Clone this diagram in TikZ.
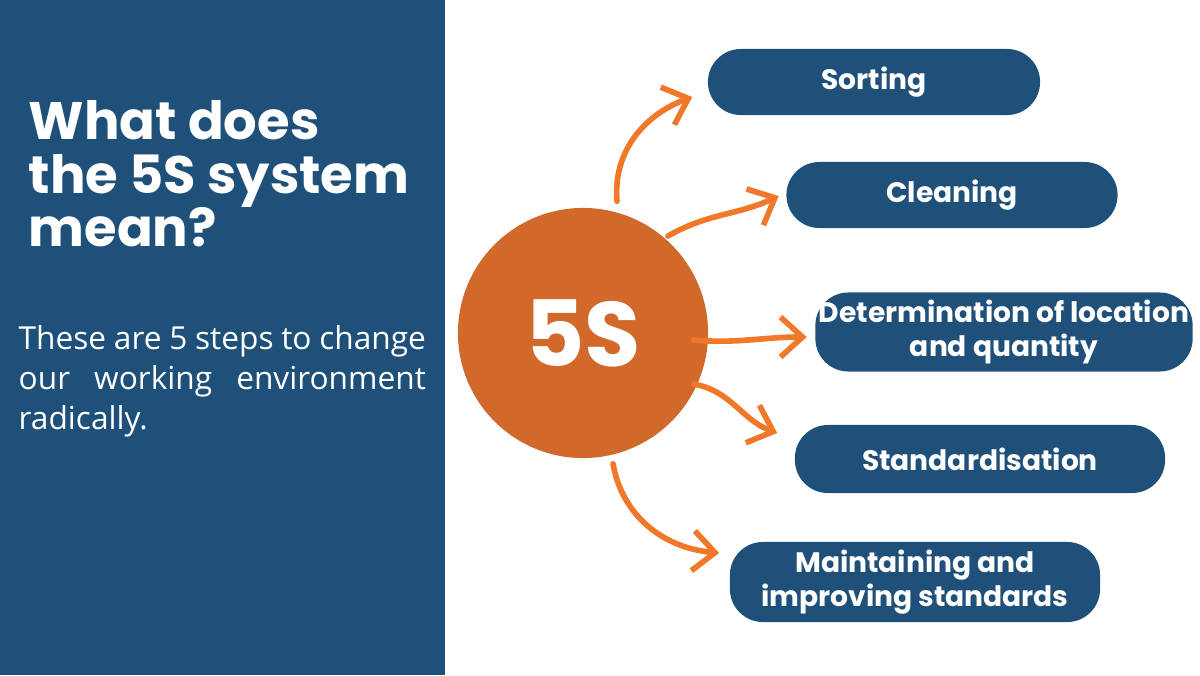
\documentclass[tikz,border=0pt]{standalone}
\usepackage{fontspec}
\setmainfont{Poppins}
\newfontfamily\bodyfont{Open Sans}
\usetikzlibrary{arrows.meta,positioning}
\definecolor{navy1}{RGB}{30,80,122}
\definecolor{rust1}{RGB}{208,105,42}
\definecolor{orange1}{RGB}{240,120,40}
\tikzset{
  stepbox/.style={fill=navy1,rounded corners=0.33cm,minimum height=0.66cm,
    text=white,font=\bfseries\fontsize{8}{9.5}\selectfont,align=center,inner sep=1pt},
  flow/.style={orange1,line width=1.6pt,line cap=round,-{Straight Barb[length=2.2mm,width=4mm]}}
}
\begin{document}
\begin{tikzpicture}[x=0.01cm,y=-0.01cm]
  \useasboundingbox (0,0) rectangle (1200,675);
  \fill[navy1] (0,0) rectangle (445,675);

  \node[anchor=north west,text=white,align=left,inner sep=0pt,
        font=\bfseries\fontsize{15}{15.2}\selectfont] (title) at (28,100)
        {What does\\the 5S system\\mean?};
  \node[anchor=north west,text=white,text width=4.07cm,align=justify,inner sep=0pt,
        font=\bodyfont\fontsize{9}{11.4}\selectfont] (para) at (18,325)
        {These are 5 steps to change our working environment radically.};

  \node[circle,fill=rust1,minimum size=2.5cm,text=white,
        font=\bfseries\fontsize{26}{26}\selectfont] (c) at (583,333) {5S};

  \node[stepbox,minimum width=3.32cm] (s1) at (874,82) {Sorting};
  \node[stepbox,minimum width=3.31cm] (s2) at (952,195) {Cleaning};
  \node[stepbox,minimum width=3.72cm,minimum height=0.79cm] (s3) at (1004,332) {Determination of location\\and quantity};
  \node[stepbox,minimum width=3.70cm,minimum height=0.68cm] (s4) at (980,459) {Standardisation};
  \node[stepbox,minimum width=3.70cm,minimum height=0.80cm] (s5) at (915,582) {Maintaining and\\improving standards};

  \draw[flow] ([shift={(34,-6)}]c.north) to[out=95,in=200] ([shift={(-15,15)}]s1.west);
  \draw[flow] ([shift={(-4,-8)}]c.45) to[out=30,in=205] ([shift={(-7,1)}]s2.west);
  \draw[flow] ([shift={(-15,7)}]c.east) to[out=-5,in=180] ([shift={(-8,5)}]s3.west);
  \draw[flow] ([shift={(-3,-2)}]c.-25) to[out=-10,in=160] ([shift={(-17,-26)}]s4.west);
  \draw[flow] ([shift={(30,5)}]c.south) to[out=-80,in=175] ([shift={(-10,-29)}]s5.west);
\end{tikzpicture}
\end{document}
